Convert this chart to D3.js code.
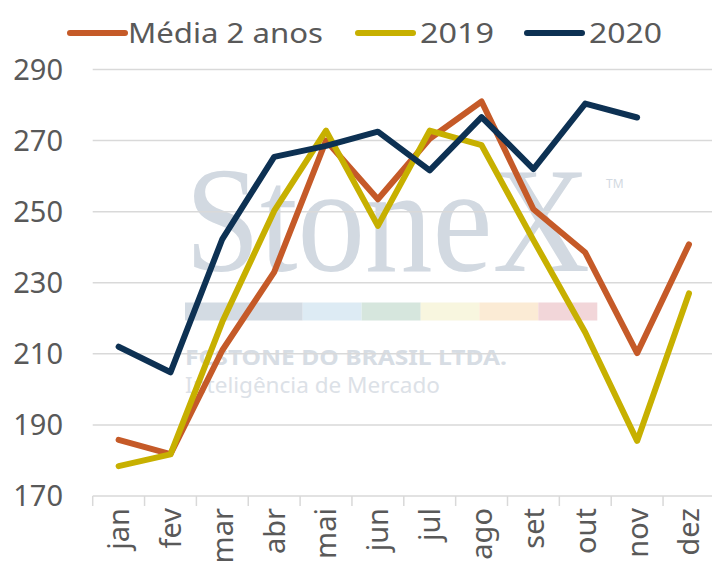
<!DOCTYPE html>
<html>
<head>
<meta charset="utf-8">
<script src="https://cdnjs.cloudflare.com/ajax/libs/d3/7.8.5/d3.min.js"></script>
<style>
  body { margin: 0; background: #fff; }
  svg { display: block; font-family: "Noto Sans", Lato, sans-serif; }
</style>
</head>
<body>
<svg id="chart" width="712" height="571"></svg>
<script>
// months on the x axis
var months = ['jan', 'fev', 'mar', 'abr', 'mai', 'jun', 'jul', 'ago', 'set', 'out', 'nov', 'dez'];
var yTicks = [170, 190, 210, 230, 250, 270, 290];

// series values
var media2anos = [185.8, 181.8, 211, 233, 270, 253.5, 270.5, 281, 250.7, 238.5, 210.2, 240.8];
var ano2019 = [178.4, 181.7, 219, 250.2, 272.8, 246, 272.8, 268.7, 242, 216, 185.5, 227];
var ano2020 = [212, 204.8, 242.3, 265.4, 268.5, 272.5, 261.6, 276.6, 262, 280.4, 276.5, null];

var seriesNames = ['Média 2 anos', '2019', '2020'];
var seriesColors = ['#C55A28', '#C7B000', '#0D3153'];

var svg = d3.select('#chart');
var plotLeft = 92.7, plotTop = 69.5, plotBottom = 496;
var step = 51.85;

var x = d3.scaleBand()
    .domain(months)
    .range([plotLeft, plotLeft + step * months.length]);

var y = d3.scaleLinear()
    .domain([170, 290])
    .range([plotBottom, plotTop]);

// watermark (behind everything)
var wm = svg.append('g').attr('class', 'watermark');
wm.append('text')
    .attr('x', 185).attr('y', 271)
    .attr('font-family', '"Liberation Serif", "DejaVu Serif", serif')
    .attr('font-size', 150)
    .attr('textLength', 405)
    .attr('lengthAdjust', 'spacingAndGlyphs')
    .attr('fill', '#D2D9E1')
    .text('StoneX');
wm.append('text')
    .attr('x', 606).attr('y', 188)
    .attr('font-size', 12)
    .attr('fill', '#D2D9E1')
    .text('TM');
var wmBars = [[185, 302.7, '#D3DBE3'], [302.7, 361.7, '#DDEBF4'], [361.7, 420.7, '#D6E6DD'],
    [420.7, 479.3, '#F8F6DF'], [479.3, 538.3, '#FBEBD5'], [538.3, 597.3, '#F2D6D9']];
wm.selectAll('rect').data(wmBars).enter().append('rect')
    .attr('x', function (d) { return d[0]; })
    .attr('width', function (d) { return d[1] - d[0]; })
    .attr('y', 302.5).attr('height', 18)
    .attr('fill', function (d) { return d[2]; });
wm.append('text')
    .attr('x', 185).attr('y', 365)
    .attr('font-size', 21).attr('font-weight', 'bold')
    .attr('textLength', 322).attr('lengthAdjust', 'spacingAndGlyphs')
    .attr('fill', '#D7DDE4')
    .text('FCSTONE DO BRASIL LTDA.');
wm.append('text')
    .attr('x', 185).attr('y', 393)
    .attr('font-size', 21)
    .attr('textLength', 255).attr('lengthAdjust', 'spacingAndGlyphs')
    .attr('fill', '#DCE1E7')
    .text('Inteligência de Mercado');

// gridlines
svg.append('g').selectAll('line')
    .data(yTicks)
    .enter().append('line')
    .attr('x1', plotLeft).attr('x2', 712)
    .attr('y1', function (d) { return y(d); })
    .attr('y2', function (d) { return y(d); })
    .attr('stroke', '#D9D9D9')
    .attr('stroke-width', 1.5);

// y labels
svg.append('g').selectAll('text')
    .data(yTicks)
    .enter().append('text')
    .attr('x', 63)
    .attr('y', function (d) { return y(d); })
    .attr('dy', '0.36em')
    .attr('text-anchor', 'end')
    .attr('font-size', 29)
    .attr('fill', '#595959')
    .text(function (d) { return d; });

// x tick marks
svg.append('g').selectAll('line')
    .data(months)
    .enter().append('line')
    .attr('x1', function (d) { return x(d); })
    .attr('x2', function (d) { return x(d); })
    .attr('y1', plotBottom).attr('y2', plotBottom + 10)
    .attr('stroke', '#D9D9D9')
    .attr('stroke-width', 1.5);

// x labels, rotated
svg.append('g').selectAll('text')
    .data(months)
    .enter().append('text')
    .attr('transform', function (d) {
        return 'translate(' + (x(d) + x.bandwidth() / 2) + ',' + 508 + ') rotate(-90)';
    })
    .attr('dy', '0.36em')
    .attr('text-anchor', 'end')
    .attr('font-size', 29)
    .attr('fill', '#595959')
    .text(function (d) { return d; });

// lines
var line = d3.line()
    .defined(function (d) { return d != null; })
    .x(function (d, i) { return x(months[i]) + x.bandwidth() / 2; })
    .y(function (d) { return y(d); });

[media2anos, ano2019, ano2020].forEach(function (values, i) {
    svg.append('path')
        .datum(values)
        .attr('d', line)
        .attr('fill', 'none')
        .attr('stroke', seriesColors[i])
        .attr('stroke-width', 6)
        .attr('stroke-linejoin', 'round')
        .attr('stroke-linecap', 'round');
});

// legend
var legendX = [[70, 128], [358, 420], [527, 589]];
var legendW = [195, 74, 73];
var legend = svg.append('g');
seriesNames.forEach(function (name, i) {
    legend.append('line')
        .attr('x1', legendX[i][0]).attr('x2', legendX[i][0] + 55)
        .attr('y1', 33).attr('y2', 33)
        .attr('stroke', seriesColors[i])
        .attr('stroke-width', 6)
        .attr('stroke-linecap', 'round');
    legend.append('text')
        .attr('x', legendX[i][1]).attr('y', 43)
        .attr('font-size', 28)
        .attr('textLength', legendW[i])
        .attr('lengthAdjust', 'spacingAndGlyphs')
        .attr('fill', '#595959')
        .text(name);
});
</script>
</body>
</html>
